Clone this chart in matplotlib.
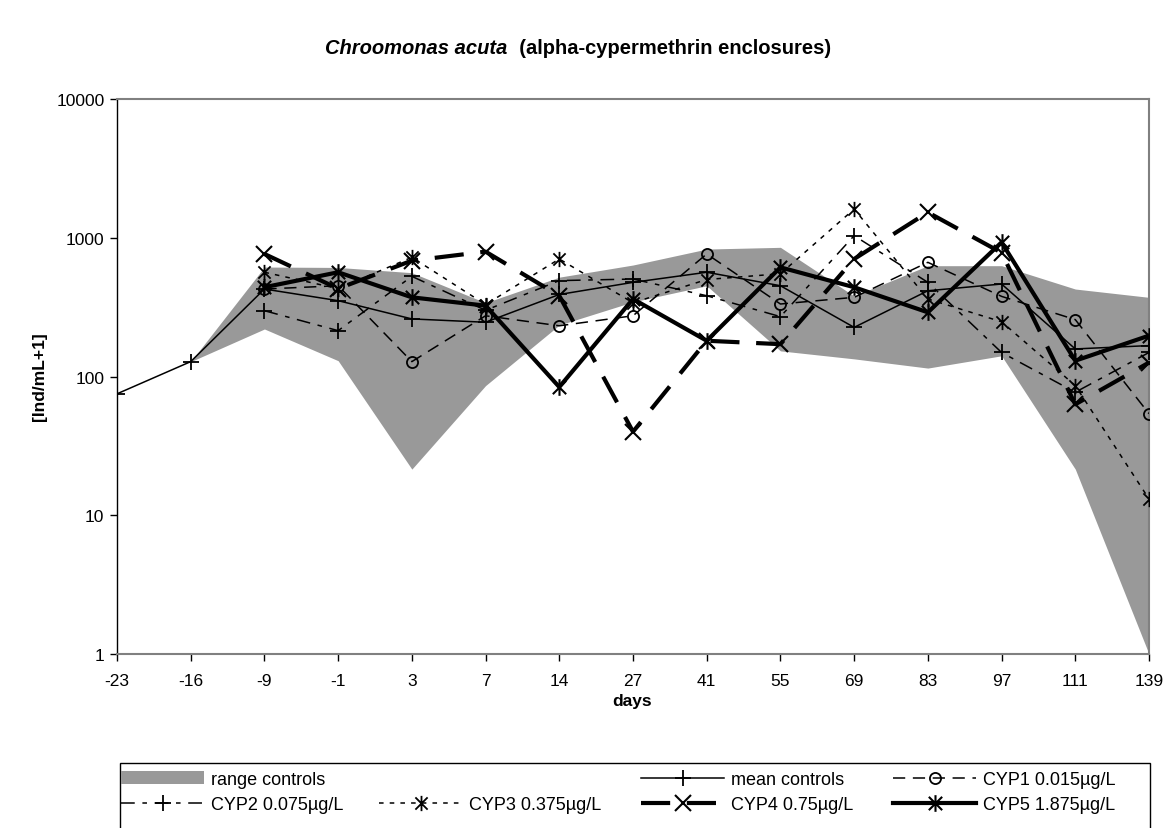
import matplotlib
matplotlib.use('Agg')
import matplotlib.pyplot as plt
from matplotlib.path import Path
from matplotlib.patches import Patch, Rectangle
from matplotlib.lines import Line2D
from matplotlib.ticker import FixedLocator, NullLocator

plt.rcParams['font.family'] = ['Liberation Sans', 'DejaVu Sans']

# ---------------- data ----------------
days = ['-23', '-16', '-9', '-1', '3', '7', '14', '27', '41', '55', '69', '83', '97', '111', '139']
range_days = days[1:]
range_min = [128, 220, 130, 21.5, 86, 235, 345, 451, 153, 134, 115, 141, 21.5, 1]
range_max = [128, 615, 611, 560, 340, 520, 636, 829, 853, 380, 629, 629, 427, 372]
mean_controls = [75, 128, 427, 352, 260, 246, 390, 477, 564, 451, 226, 415, 464, 158, 167]
cyp_days = days[2:]
cyp1 = [427, 451, 128, 274, 232, 274, 764, 333, 372, 665, 378, 257, 54]
cyp2 = [298, 214, 527, 300, 491, 504, 382, 270, 1035, 477, 149, 77, 149]
cyp3 = [564, 430, 723, 330, 703, 340, 500, 550, 1610, 362, 248, 86, 13.1]
cyp4 = [764, 430, 684, 794, 382, 40, 181, 171, 703, 1525, 780, 63, 126]
cyp5 = [440, 564, 372, 324, 84, 362, 181, 612, 440, 290, 927, 130, 197]
y_ticks = [1, 10, 100, 1000, 10000]

FS = 12.5
W, H = 1163, 829

# ---------------- figure ----------------
fig = plt.figure(figsize=(W / 100, H / 100), dpi=100)
ax = fig.add_axes([117 / W, 1 - 655 / H, (1149 - 117) / W, (655 - 100) / H])

pos = {d: i for i, d in enumerate(days)}
xr = [pos[d] for d in range_days]
xm = [pos[d] for d in days]
xc = [pos[d] for d in cyp_days]

ast = Path([(0, -1), (0, 1), (-0.8, -0.8), (0.8, 0.8), (-0.8, 0.8), (0.8, -0.8)],
           [Path.MOVETO, Path.LINETO, Path.MOVETO, Path.LINETO, Path.MOVETO, Path.LINETO])

ax.fill_between(xr, range_min, range_max, color='#999999', lw=0, zorder=1)

l_mean, = ax.plot(xm, mean_controls, color='black', lw=1.1, marker='+', ms=11, mew=1.3, zorder=3)
l1, = ax.plot(xc, cyp1, color='black', lw=1.1, dashes=(8, 5), marker='o', ms=8,
              mfc='none', mew=1.3, zorder=3)
l2, = ax.plot(xc, cyp2, color='black', lw=1.1, dashes=(9, 5, 3, 5), marker='+', ms=11, mew=1.3, zorder=3)
l3, = ax.plot(xc, cyp3, color='black', lw=1.1, dashes=(3, 4), marker=ast, ms=11, mew=1.3, zorder=3)
l4, = ax.plot(xc, cyp4, color='black', lw=3.0, dashes=(7, 4), marker='x', ms=11, mew=1.5, zorder=4)
l5, = ax.plot(xc, cyp5, color='black', lw=3.0, marker=ast, ms=12, mew=1.5, zorder=4)

ax.set_yscale('log')
ax.set_ylim(1, 10000)
ax.set_xlim(0, len(days) - 1)
ax.yaxis.set_major_locator(FixedLocator(y_ticks))
ax.yaxis.set_minor_locator(NullLocator())
ax.set_yticklabels([str(v) for v in y_ticks])
ax.set_xticks(xm)
ax.set_xticklabels(days)
ax.tick_params(axis='both', direction='out', length=5, width=1, labelsize=FS, color='black')
ax.tick_params(axis='x', pad=9)
ax.tick_params(axis='y', pad=4)

for s in ['top', 'right', 'bottom']:
    ax.spines[s].set_color('#808080')
    ax.spines[s].set_linewidth(1.5)
ax.spines['left'].set_color('black')
ax.spines['left'].set_linewidth(1)

ax.set_xlabel('days', fontsize=FS, fontweight='bold', va='center')
ax.set_ylabel('[Ind/mL+1]', fontsize=FS, fontweight='bold', va='center')
ax.xaxis.set_label_coords((632 - 117) / 1032, (655 - 702) / 555)
ax.yaxis.set_label_coords((40 - 117) / 1032, (655 - 377) / 555)

# title: italic species name + bold remainder
TFS = 14.5
t1 = fig.text(0, 1 - 48 / H, 'Chroomonas acuta', fontsize=TFS, fontweight='bold',
              fontstyle='italic', va='center', ha='left')
t2 = fig.text(0, 1 - 48 / H, '  (alpha-cypermethrin enclosures)', fontsize=TFS,
              fontweight='bold', va='center', ha='left')
fig.canvas.draw()
r = fig.canvas.get_renderer()
w1 = t1.get_window_extent(r).width
w2 = t2.get_window_extent(r).width
x0 = (578 - (w1 + w2) / 2) / W
t1.set_x(x0)
t2.set_x(x0 + w1 / W)

# legend: four columns placed like the reference, inside one frame
empty = Line2D([], [], alpha=0)
rng = Patch(facecolor='#999999', edgecolor='none')
columns = [([rng, l2], ['range controls', 'CYP2 0.075µg/L'], 121),
           ([empty, l3], ['', 'CYP3 0.375µg/L'], 379),
           ([l_mean, l4], ['mean controls', 'CYP4 0.75µg/L'], 641),
           ([l1, l5], ['CYP1 0.015µg/L', 'CYP5 1.875µg/L'], 893)]
for hs, ls, xpix in columns:
    lg = fig.legend(hs, ls, loc='upper left', bbox_to_anchor=(xpix / W, 1 - 772 / H),
                    fontsize=13, frameon=False, handlelength=4.6, handletextpad=0.4,
                    borderaxespad=0, borderpad=0, labelspacing=0.45)
fig.patches.append(Rectangle((120 / W, 1 - 834 / H), (1150 - 120) / W, (834 - 764) / H,
                             transform=fig.transFigure, facecolor='none',
                             edgecolor='black', lw=1, clip_on=False))

fig.savefig('out.png', dpi=100)
